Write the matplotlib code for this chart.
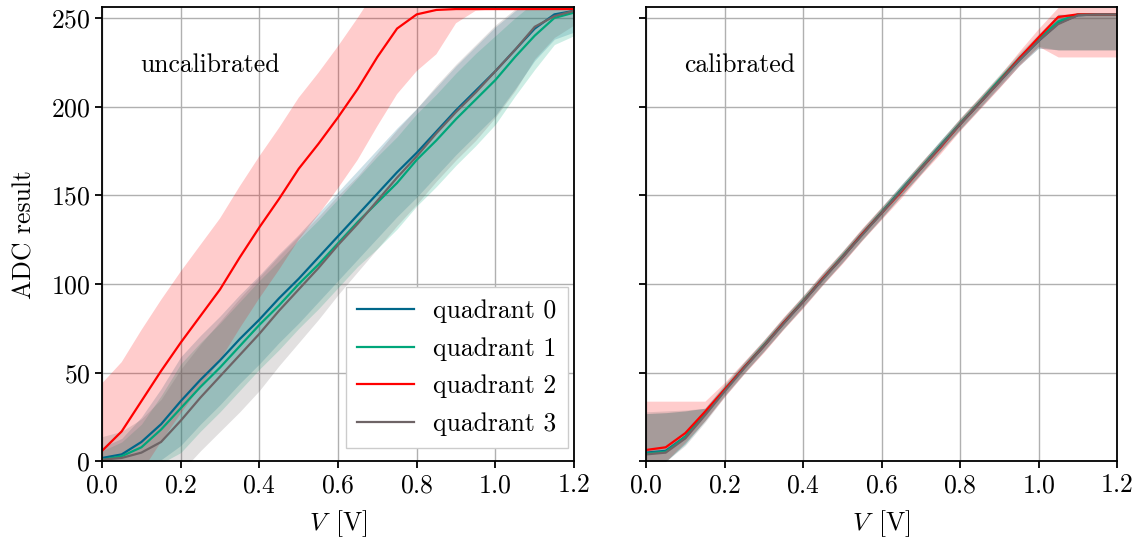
import numpy as np
import matplotlib
matplotlib.use("Agg")
import matplotlib.pyplot as plt

# === STYLE ===
plt.rcParams["font.family"] = "serif"
plt.rcParams["font.serif"] = ["cmr10", "DejaVu Serif"]
plt.rcParams["mathtext.fontset"] = "cm"
plt.rcParams["axes.formatter.use_mathtext"] = True
plt.rcParams["font.size"] = 18.5

# === DATA ===
voltage = [0.0, 0.05, 0.1, 0.15, 0.2, 0.25, 0.3, 0.35, 0.4, 0.45, 0.5, 0.55, 0.6,
           0.65, 0.7, 0.75, 0.8, 0.85, 0.9, 0.95, 1.0, 1.05, 1.1, 1.15, 1.2]

quadrants = ["quadrant 0", "quadrant 1", "quadrant 2", "quadrant 3"]
colors = ["#00678a", "#00a67a", "#ff0000", "#6e6466"]

# uncalibrated mean ADC value
unc_q0 = [2, 4, 11, 21, 34, 46, 57, 69, 80, 92, 103, 115, 127, 139, 151, 163, 174, 186, 198, 209, 220, 232, 244, 252, 254]
unc_q1 = [1, 3, 8, 18, 30, 42, 53, 65, 77, 88, 100, 111, 123, 135, 146, 157, 170, 181, 193, 204, 215, 228, 240, 250, 253]
unc_q2 = [6, 17, 34, 51, 67, 82, 97, 115, 132, 148, 165, 179, 194, 210, 228, 244, 252, 254.5, 255, 255, 255, 255, 255, 255, 255]
unc_q3 = [1, 2, 5, 11, 23, 36, 48, 60, 72, 85, 97, 109, 122, 134, 147, 160, 172, 185, 197, 208, 220, 232, 245, 251, 254]

# uncalibrated spread (symmetric)
unc_s0 = [6, 9, 14, 20, 25, 25, 25, 25, 25, 25, 25, 25, 25, 25, 25, 25, 25, 25, 25, 25, 25, 22, 18, 14, 12]
unc_s1 = [5, 8, 13, 19, 25, 25, 25, 25, 25, 25, 25, 25, 25, 25, 26, 26, 26, 26, 26, 26, 25, 22, 19, 15, 13]
unc_s2 = [38, 39, 40, 40, 40, 40, 40, 40, 40, 40, 40, 40, 40, 40, 39, 37, 32, 25, 8, 1, 0, 0, 0, 0, 0]
unc_s3 = [13, 15, 19, 24, 29, 30, 31, 32, 32, 31, 30, 29, 28, 27, 27, 27, 27, 27, 27, 27, 26, 23, 18, 12, 8]

# calibrated mean ADC value
cal_q0 = [5, 6, 14, 27, 40, 53, 65, 78, 90, 103, 115, 128, 140, 153, 165, 178, 190, 202, 214, 226, 237, 247, 251.5, 252, 252]
cal_q1 = [4.5, 5.5, 14, 27, 40.5, 53, 65.5, 78, 90.5, 103, 115.5, 128, 140.5, 153, 165.5, 178, 190.5, 202.5, 215, 227, 238, 248, 252, 252, 252]
cal_q2 = [6.5, 8, 16, 28, 40.5, 53, 65, 78, 90, 103, 115, 128, 140, 152, 165, 177, 190, 202, 214, 227, 239, 250.5, 252, 252, 252]
cal_q3 = [4, 5, 13, 26, 39.5, 52.5, 65, 77.5, 90, 102.5, 115, 127.5, 140, 152.5, 165, 177.5, 190, 202, 214, 226, 237, 246.5, 251.5, 252, 252]

# calibrated band edges (lower / upper)
cal_lo0 = [0, 0, 10, 23, 37, 50, 62, 75, 87, 100, 112, 125, 137, 150, 162, 175, 187, 199, 211, 223, 233, 232, 232, 232, 232]
cal_hi0 = [27, 27.5, 28.5, 30, 43, 56, 68, 81, 93, 106, 118, 131, 143, 156, 168, 181, 193, 205, 217, 229, 240, 252, 252, 252, 252]
cal_lo1 = [0, 0, 10, 23, 37.5, 50, 62.5, 75, 87.5, 100, 112.5, 125, 137.5, 150, 162.5, 175, 187.5, 199.5, 212, 224, 234, 232, 232, 232, 232]
cal_hi1 = [27, 27.5, 28.5, 30, 43.5, 56, 68.5, 81, 93.5, 106, 118.5, 131, 143.5, 156, 168.5, 181, 193.5, 205.5, 218, 230, 241, 252, 252, 252, 252]
cal_lo2 = [0, 0, 11, 23, 36.5, 49.5, 61.5, 74.5, 86.5, 99.5, 111.5, 124.5, 136.5, 148.5, 161.5, 173.5, 186.5, 198.5, 210.5, 223, 234, 228, 228, 228, 228]
cal_hi2 = [34, 34, 34, 34, 44.5, 56.5, 68.5, 81.5, 93.5, 106.5, 118.5, 131.5, 143.5, 155.5, 168.5, 180.5, 193.5, 205.5, 217.5, 231, 244, 256, 256, 256, 256]
cal_lo3 = [0, 0, 9, 22, 36.5, 49.5, 62, 74.5, 87, 99.5, 112, 124.5, 137, 149.5, 162, 174.5, 187, 199, 211, 223, 233, 232, 232, 232, 232]
cal_hi3 = [28, 28.5, 29, 30, 42.5, 55.5, 68, 80.5, 93, 105.5, 118, 130.5, 143, 155.5, 168, 180.5, 193, 205, 217, 229, 240, 252, 252, 252, 252]

# === PLOT ===
fig = plt.figure(figsize=(11.39, 5.43), dpi=100)
ax_l = fig.add_axes([0.0896, 0.1501, 0.4144, 0.8365])
ax_r = fig.add_axes([0.5672, 0.1501, 0.4135, 0.8365], sharey=ax_l)

v = np.array(voltage)

# uncalibrated: mean +- spread
unc_means = [unc_q0, unc_q1, unc_q2, unc_q3]
unc_spreads = [unc_s0, unc_s1, unc_s2, unc_s3]
for m, s, c in zip(unc_means, unc_spreads, colors):
    m = np.array(m, dtype=float)
    s = np.array(s, dtype=float)
    ax_l.fill_between(v, m - s, m + s, color=c, alpha=0.2, linewidth=0)
for m, c, lab in zip(unc_means, colors, quadrants):
    ax_l.plot(v, m, color=c, linewidth=1.6, label=lab)

# calibrated: explicit band edges
cal_means = [cal_q0, cal_q1, cal_q2, cal_q3]
cal_bands = [(cal_lo0, cal_hi0), (cal_lo1, cal_hi1), (cal_lo2, cal_hi2), (cal_lo3, cal_hi3)]
for (lo, hi), c in zip(cal_bands, colors):
    ax_r.fill_between(v, lo, hi, color=c, alpha=0.2, linewidth=0)
for m, c, lab in zip(cal_means, colors, quadrants):
    ax_r.plot(v, m, color=c, linewidth=1.6, label=lab)

for ax, title in [(ax_l, "uncalibrated"), (ax_r, "calibrated")]:
    ax.set_xlim(0, 1.2)
    ax.set_ylim(0, 256)
    ax.set_xticks(np.arange(0, 1.21, 0.2))
    ax.set_yticks([0, 50, 100, 150, 200, 250])
    ax.grid(True, color="#b0b0b0", linewidth=1.0)
    ax.set_axisbelow(True)
    ax.tick_params(length=5, width=1.3)
    for sp in ax.spines.values():
        sp.set_linewidth(1.3)
    ax.set_xlabel(r"$V\enspace$[V]", labelpad=8)
    ax.text(0.08, 0.873, title, transform=ax.transAxes, va="center", ha="left")

ax_l.set_ylabel("ADC result", labelpad=10)
plt.setp(ax_r.get_yticklabels(), visible=False)

ax_l.legend(loc="lower right", bbox_to_anchor=(0.987, 0.03), fancybox=False,
            handlelength=2.2, handletextpad=0.75, labelspacing=0.55,
            edgecolor="#cccccc", framealpha=1.0, borderaxespad=0.0, borderpad=0.45)

fig.savefig("out.png", dpi=100)
